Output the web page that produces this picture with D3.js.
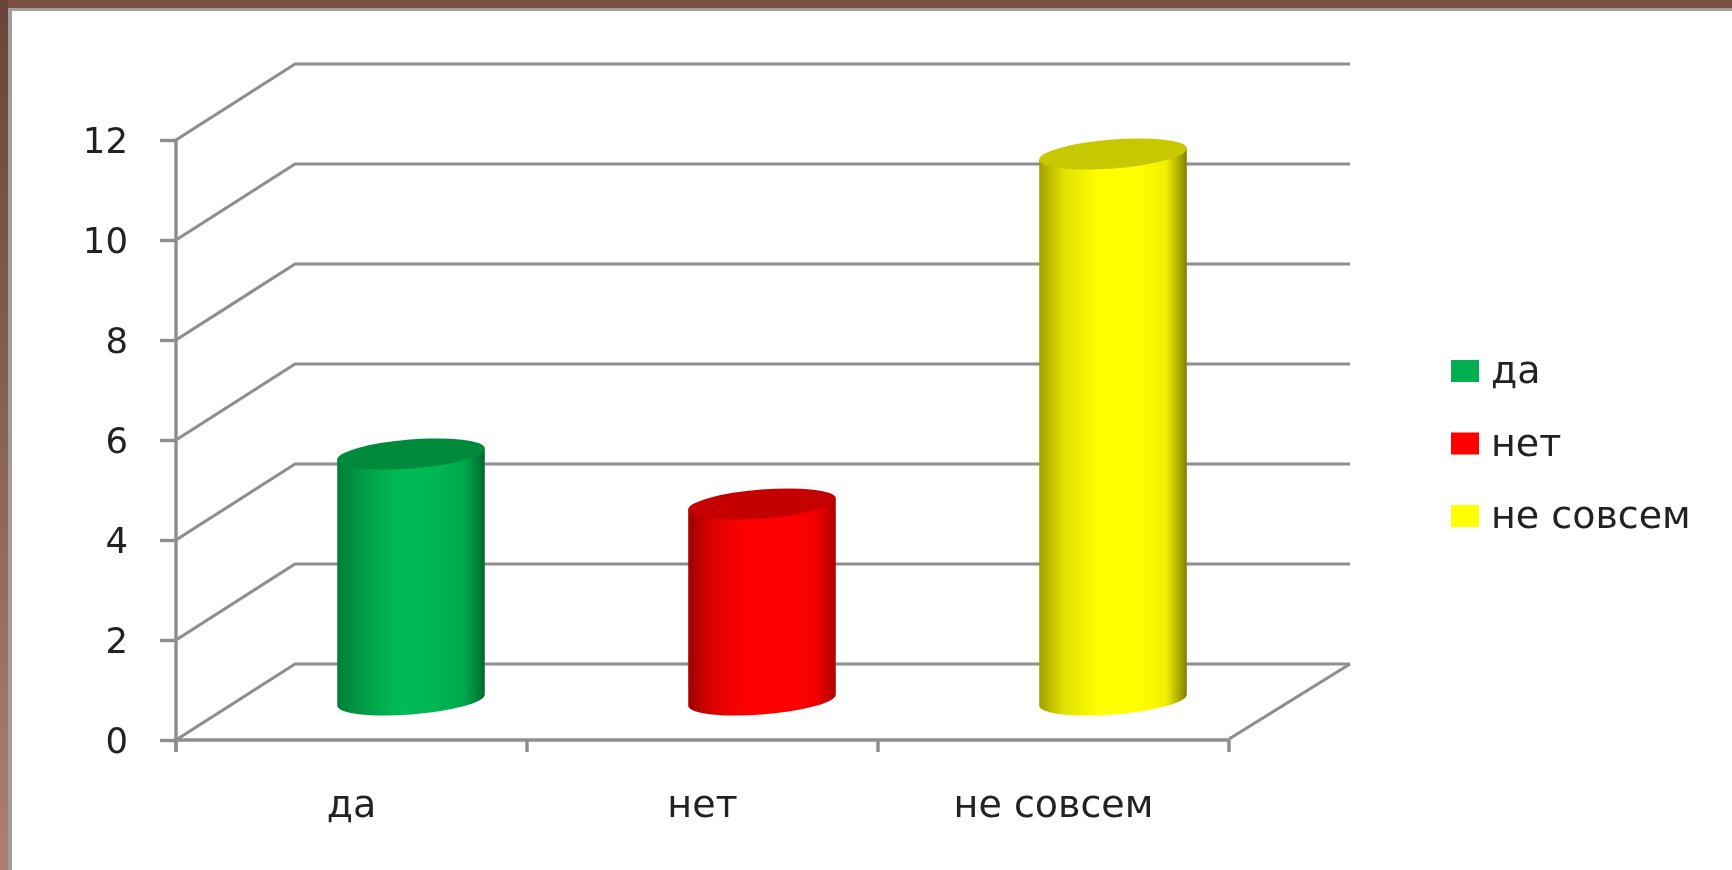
<!DOCTYPE html>
<html>
<head>
<meta charset="utf-8">
<script src="https://cdn.jsdelivr.net/npm/d3@7"></script>
<style>
html,body{margin:0;padding:0;background:#fff;overflow:hidden}
svg{display:block}
text{font-family:"DejaVu Sans",sans-serif;fill:#222}
</style>
</head>
<body>
<script>
const categories = ["да", "нет", "не совсем"];
const values = [5, 4, 11];
const yTicks = [0, 2, 4, 6, 8, 10, 12];
const baseColors = ["#00b050", "#ff0000", "#ffff00"];
const topColors = ["#008a3c", "#c40000", "#c8c800"];
const sideShades = [
  ["#007f37", "#009a44", "#00bb55", "#00b552", "#00a84c", "#006a2e"],
  ["#a00000", "#dc0000", "#ff0000", "#ff0000", "#f40000", "#b00000"],
  ["#a0a000", "#e0e000", "#ffff00", "#ffff00", "#f0f000", "#808000"]
];
const shadeStops = [0, 0.16, 0.4, 0.68, 0.86, 1];

const W = 1732, H = 870;
const x0 = 176, x1 = 1229, y0 = 740, y12 = 140;
const depthX = 119, depthY = -76;
const grid = "#8e8e8e";

const svg = d3.select("body").append("svg").attr("width", W).attr("height", H);
const defs = svg.append("defs");

// Frame
const fg = defs.append("linearGradient").attr("id", "frameLeft")
  .attr("x1", 0).attr("x2", 0).attr("y1", 0).attr("y2", 1);
fg.append("stop").attr("offset", 0).attr("stop-color", "#6a4436");
fg.append("stop").attr("offset", 1).attr("stop-color", "#ab806f");
svg.append("rect").attr("x", 8).attr("y", 7).attr("width", 4).attr("height", H).attr("fill", "#a0a0a0");
svg.append("rect").attr("x", 8).attr("y", 7).attr("width", W).attr("height", 4).attr("fill", "#a0a0a0");
svg.append("rect").attr("width", W).attr("height", 8).attr("fill", "#7a5040");
svg.append("rect").attr("width", 8).attr("height", H).attr("fill", "url(#frameLeft)");

const chart = svg.append("g").style("filter", "blur(0.6px)");

const y = d3.scaleLinear().domain([0, 12]).range([y0, y12]);
const x = d3.scaleBand().domain(categories).range([x0, x1]);

// Walls and grid
const wall = chart.append("g").attr("fill", "none").attr("stroke", grid).attr("stroke-width", 3.2);
wall.selectAll("path.g").data(yTicks).join("path").attr("class", "g")
  .attr("d", d => d3.line()([[x0, y(d)], [x0 + depthX, y(d) + depthY], [x1 + depthX + 2, y(d) + depthY]]));
wall.append("path").attr("d", d3.line()([[x1, y0 - 1], [x1 + depthX + 2, y0 + depthY]]));

// Y axis
const yAxis = chart.append("g").attr("transform", `translate(${x0},0)`)
  .call(d3.axisLeft(y).tickValues(yTicks).tickSize(16).tickPadding(32).tickFormat(d3.format("d")));
yAxis.selectAll("path,line").attr("stroke", grid).attr("stroke-width", 3.4);
yAxis.select(".domain").attr("d", `M0,${y12}V${y0 + 12}`);
yAxis.selectAll("text").attr("font-size", 35.5).attr("dy", "0.36em");

// X axis
const xAxis = chart.append("g").attr("transform", `translate(0,${y0})`)
  .call(d3.axisBottom(x).tickSize(0).tickPadding(74));
xAxis.selectAll("path,line").remove();
xAxis.selectAll("text").attr("font-size", 38).attr("dy", "0.09em");
chart.append("g").attr("stroke", grid).attr("stroke-width", 3.4).attr("fill", "none")
  .call(g => {
    g.append("path").attr("d", `M${x0},${y0}H${x1}`);
    g.selectAll("line").data([...categories.map(c => x(c)), x1]).join("line")
      .attr("x1", d => d).attr("x2", d => d).attr("y1", y0).attr("y2", y0 + 12);
  });

// Cylinders
const rx = 74, ry = 14.5, tilt = -4.5 * Math.PI / 180;
const tT = Math.atan(-(ry / rx) * Math.tan(tilt));
const tangent = (cx, cy, t) => [
  cx + rx * Math.cos(t) * Math.cos(tilt) - ry * Math.sin(t) * Math.sin(tilt),
  cy + rx * Math.cos(t) * Math.sin(tilt) + ry * Math.sin(t) * Math.cos(tilt)
];
const deg = tilt * 180 / Math.PI;

categories.forEach((c, i) => {
  const g = defs.append("linearGradient").attr("id", "cyl" + i);
  shadeStops.forEach((o, k) =>
    g.append("stop").attr("offset", o).attr("stop-color", sideShades[i][k]));
});

const bars = chart.append("g").selectAll("g").data(categories).join("g");
bars.each(function (c, i) {
  const cx = x(c) + x.bandwidth() / 2 + depthX / 2;
  const by = y(0) + depthY / 2 - 2;
  const ty = y(values[i]) + depthY / 2 + 2;
  const tR = tangent(cx, ty, tT), tL = tangent(cx, ty, tT + Math.PI);
  const bR = tangent(cx, by, tT), bL = tangent(cx, by, tT + Math.PI);
  const sel = d3.select(this);
  sel.append("path")
    .attr("d", `M${tL}L${bL}A${rx},${ry} ${deg} 0 0 ${bR}L${tR}Z`)
    .attr("fill", `url(#cyl${i})`);
  sel.append("ellipse")
    .attr("rx", rx).attr("ry", ry)
    .attr("transform", `translate(${cx},${ty}) rotate(${deg})`)
    .attr("fill", topColors[i]);
});

// Legend
const legendY = d3.scalePoint().domain(categories).range([371, 516]);
const legend = chart.append("g").selectAll("g").data(categories).join("g")
  .attr("transform", c => `translate(1451,${legendY(c)})`);
legend.append("rect").attr("y", -11).attr("width", 28).attr("height", 22)
  .attr("fill", (c, i) => baseColors[i]);
legend.append("text").attr("x", 40).attr("y", 12).attr("font-size", 38).text(c => c);
</script>
</body>
</html>
